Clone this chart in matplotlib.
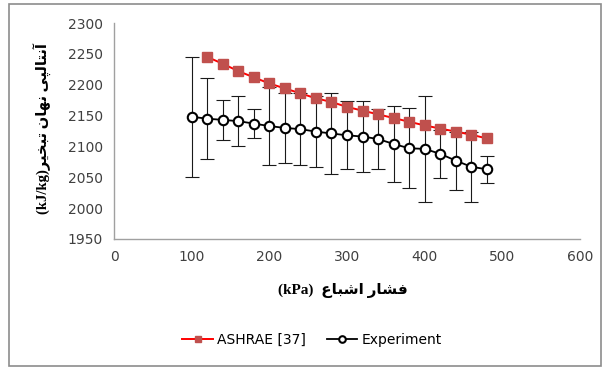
import numpy as np
import matplotlib
matplotlib.use('Agg')
import matplotlib.pyplot as plt
from matplotlib.patches import Rectangle

# Saturation pressure (kPa)
p_exp = [100, 120, 140, 160, 180, 200, 220, 240, 260, 280,
         300, 320, 340, 360, 380, 400, 420, 440, 460, 480]
h_exp = [2148, 2145, 2143, 2141, 2137, 2133, 2130, 2128, 2124, 2121,
         2118, 2116, 2112, 2104, 2097, 2096, 2088, 2077, 2067, 2063]
h_err = [97, 66, 32, 41, 23, 63, 57, 58, 58, 66,
         55, 57, 48, 61, 65, 86, 39, 47, 57, 22]

p_ashrae = [120, 140, 160, 180, 200, 220, 240, 260, 280,
            300, 320, 340, 360, 380, 400, 420, 440, 460, 480]
h_ashrae = [2245, 2234, 2222, 2212, 2202, 2194, 2186, 2178, 2172,
            2164, 2158, 2152, 2146, 2140, 2134, 2129, 2124, 2119, 2113]

xticks = [0, 100, 200, 300, 400, 500, 600]
yticks = [1950, 2000, 2050, 2100, 2150, 2200, 2250, 2300]

# Persian labels, pre-shaped (presentation forms) in visual order
ylabel = '(kJ/kg)' + '\uFEAE\uFEF4\uFEA8\uFE92\uFE97' + ' ' + \
         '\uFEE5\uFE8E\uFEEC\uFEE7' + ' ' + \
         '\uFEF0\uFB59\uFEDF\uFE8E\uFE98\uFEE7\uFE81'
xlabel = '(kPa)  ' + '\uFEC9\uFE8E\uFE92\uFEB7\uFE8D' + ' ' + \
         '\uFEAD\uFE8E\uFEB8\uFED3'

fig = plt.figure(figsize=(6.02, 3.67), dpi=100)
ax = fig.add_axes([0.1894, 0.3488, 0.7741, 0.5885])

# outer frame
fig.patches.append(Rectangle((8.5 / 602, 1.5 / 367), 592 / 602, 362 / 367,
                             transform=fig.transFigure, fill=False,
                             edgecolor='#8c8c8c', linewidth=1.2))

ax.errorbar(p_exp, h_exp, yerr=h_err, fmt='none', ecolor='#1a1a1a',
            elinewidth=0.8, capsize=5, capthick=0.8, zorder=2)
ax.plot(p_ashrae, h_ashrae, color='#ff0000', linewidth=1.4, marker='s',
        markersize=7, markerfacecolor='#c0504d', markeredgecolor='#c0504d',
        label='ASHRAE [37]', zorder=4)
ax.plot(p_exp, h_exp, color='black', linewidth=1.3, marker='o',
        markersize=6.8, markerfacecolor='white', markeredgecolor='black',
        markeredgewidth=1.5, label='Experiment', zorder=3)

ax.set_xlim(0, 600)
ax.set_ylim(1950, 2300)
ax.set_xticks(xticks)
ax.set_yticks(yticks)
ax.tick_params(length=0, labelsize=10, labelcolor='#404040', pad=8)
for s in ['top', 'right']:
    ax.spines[s].set_visible(False)
for s in ['left', 'bottom']:
    ax.spines[s].set_color('#a0a0a0')
    ax.spines[s].set_linewidth(1)

fig.text(343 / 602, 1 - 291 / 367, xlabel, ha='center', va='center',
         fontsize=11, fontweight='bold', family=['Liberation Serif', 'DejaVu Sans'])
fig.text(43 / 602, 1 - 128 / 367, ylabel, ha='center', va='center', rotation=90,
         fontsize=10.5, fontweight='bold', family=['Liberation Serif', 'DejaVu Sans'])

fig.legend(loc='center', bbox_to_anchor=(312 / 602, 1 - 340 / 367), ncol=2,
           frameon=False, fontsize=10, handlelength=2.2, columnspacing=1.5,
           handletextpad=0.3, markerscale=0.7)

fig.savefig('out.png', dpi=100)
